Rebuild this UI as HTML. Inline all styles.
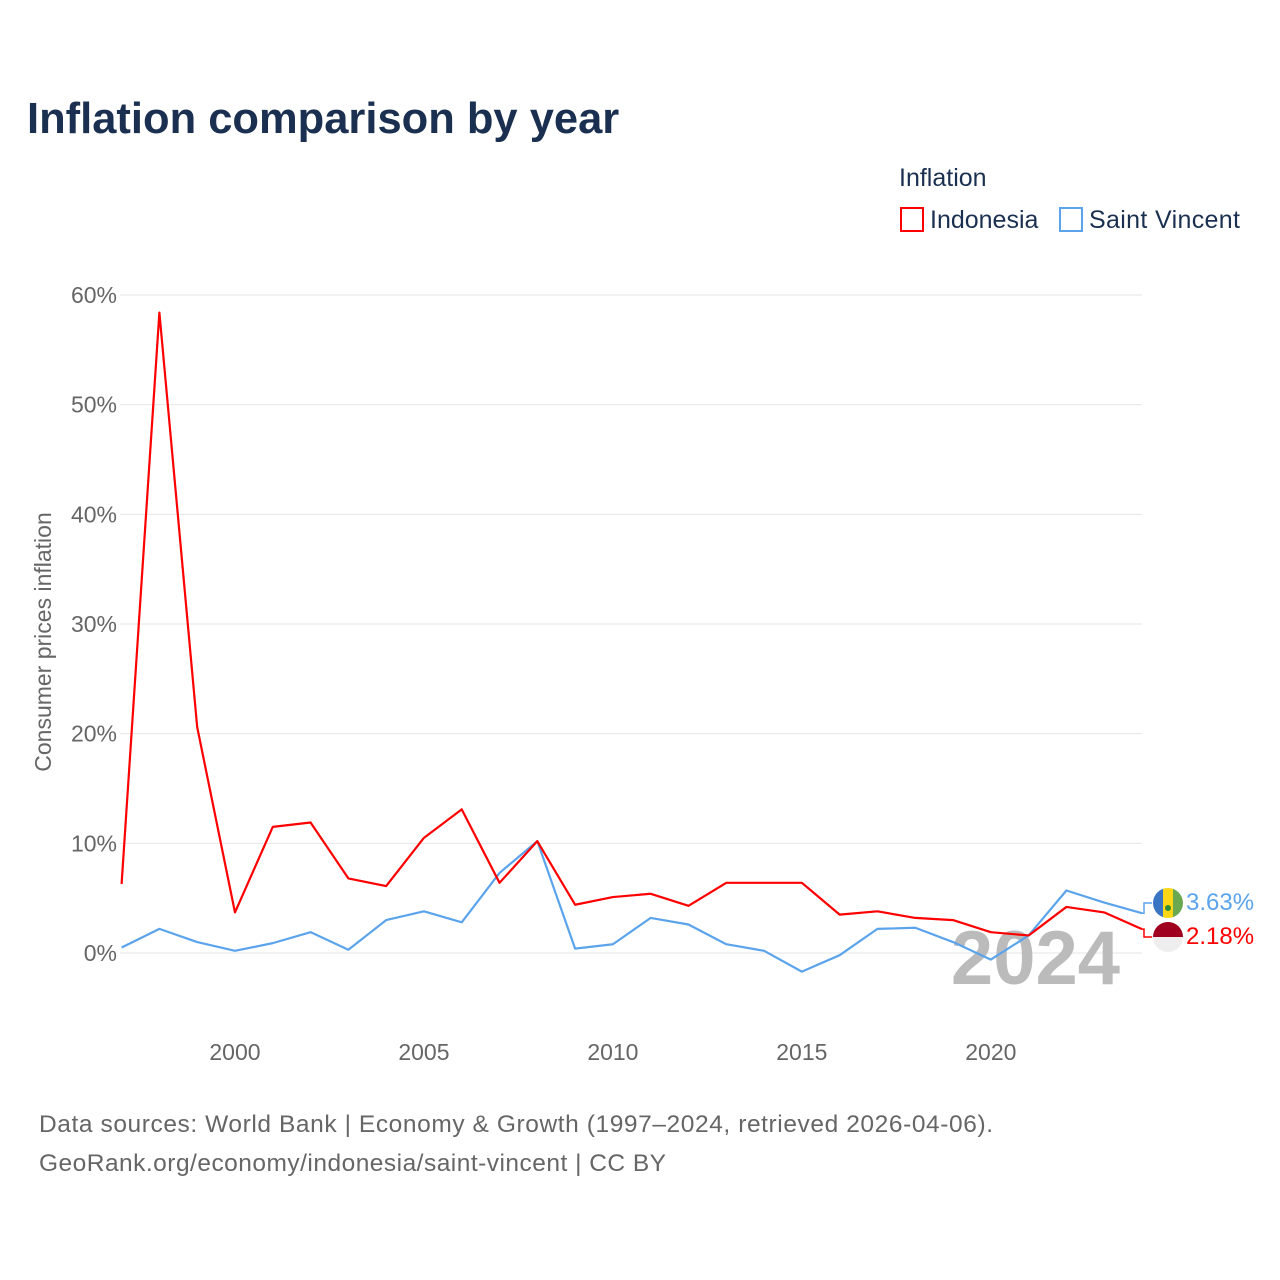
<!DOCTYPE html>
<html><head><meta charset="utf-8">
<style>
body{margin:0;background:#fff;font-family:"Liberation Sans",sans-serif;}
#wrap{position:relative;width:1280px;height:1280px;overflow:hidden;}
</style></head>
<body>
<div id="wrap">
<svg id="chart" width="1280" height="1280" xmlns="http://www.w3.org/2000/svg">
<text x="27" y="133" font-size="43.5" font-weight="bold" fill="#1b3050">Inflation comparison by year</text>
<text x="899" y="186" font-size="25" fill="#1b3050">Inflation</text>
<g><rect x="901" y="208" width="22" height="23" fill="#fff" stroke="#ff0000" stroke-width="2"/><text x="930" y="228" font-size="25" fill="#1b3050">Indonesia</text></g>
<g><rect x="1060" y="208" width="22" height="23" fill="#fff" stroke="#5ba4ec" stroke-width="2"/><text x="1089" y="228" font-size="25" fill="#1b3050" textLength="151">Saint Vincent</text></g>
<text transform="translate(51,642) rotate(-90)" text-anchor="middle" font-size="23" fill="#666">Consumer prices inflation</text>
<g id="grid"></g><g id="xticks"></g>
<text x="1120" y="984" text-anchor="end" font-size="76" font-weight="bold" fill="#bbb">2024</text>
<g id="lines"></g>
<g id="ends"></g>
<text x="39" y="1132" font-size="24.5" fill="#666" textLength="954">Data sources: World Bank | Economy &amp; Growth (1997–2024, retrieved 2026-04-06).</text>
<text x="39" y="1171" font-size="24.5" fill="#666" textLength="627">GeoRank.org/economy/indonesia/saint-vincent | CC BY</text>
</svg>
</div>
<script>
const years=[1997,1998,1999,2000,2001,2002,2003,2004,2005,2006,2007,2008,2009,2010,2011,2012,2013,2014,2015,2016,2017,2018,2019,2020,2021,2022,2023,2024];
const indonesia=[6.3,58.4,20.6,3.7,11.5,11.9,6.8,6.1,10.5,13.1,6.4,10.2,4.4,5.1,5.4,4.3,6.4,6.4,6.4,3.5,3.8,3.2,3.0,1.9,1.6,4.2,3.7,2.18];
const saintVincent=[0.5,2.2,1.0,0.2,0.9,1.9,0.3,3.0,3.8,2.8,7.3,10.2,0.4,0.8,3.2,2.6,0.8,0.2,-1.7,-0.2,2.2,2.3,1.0,-0.6,1.6,5.7,4.6,3.63];
const yTicks=[0,10,20,30,40,50,60];
const xTicks=[2000,2005,2010,2015,2020];
const NS="http://www.w3.org/2000/svg";
const xs=y=>121.6+(y-1997)*(1142-121.6)/27;
const ys=v=>953-v*(953-295)/60;
function mk(t,a,p){const e=document.createElementNS(NS,t);for(const k in a)e.setAttribute(k,a[k]);p.appendChild(e);return e;}
const grid=document.getElementById('grid');
yTicks.forEach(v=>{
 const l=mk('line',{x1:120,x2:1142,y1:ys(v),y2:ys(v),stroke:'#e6e6e6','stroke-width':1},grid);
 
 
 const t=mk('text',{x:117,y:ys(v)+8,'text-anchor':'end','font-size':23,fill:'#666'},grid);
 t.textContent=v+'%';
 
 
});
const xt=document.getElementById('xticks');
xTicks.forEach(v=>{
 const t=mk('text',{x:xs(v),y:1060,'text-anchor':'middle','font-size':23,fill:'#666'},xt);
 t.textContent=v;
 
 
});
const lines=document.getElementById('lines');
function series(vals,col,name){
 const p=mk('polyline',{points:vals.map((v,i)=>xs(years[i])+','+ys(v)).join(' '),fill:'none',stroke:col,'stroke-width':2.2,'stroke-linejoin':'round'},lines);
 
 
}
series(saintVincent,'#5ba4ec','line-saint-vincent');
series(indonesia,'#ff0000','line-indonesia');
const ends=document.getElementById('ends');
const last=years.length-1;
const svY=903,inY=937,ex=xs(years[last]);
mk('polyline',{points:`${ex},${ys(saintVincent[last])} ${ex+2},${ys(saintVincent[last])} ${ex+2},${svY} ${ex+10},${svY}`,fill:'none',stroke:'#5ba4ec','stroke-width':1.5},ends);
mk('polyline',{points:`${ex},${ys(indonesia[last])} ${ex+2},${ys(indonesia[last])} ${ex+2},${inY} ${ex+10},${inY}`,fill:'none',stroke:'#ff0000','stroke-width':1.5},ends);
const cp=mk('clipPath',{id:'c1'},ends);mk('circle',{cx:1168,cy:903,r:15},cp);
mk('rect',{x:1153,y:888,width:10,height:30,fill:'#3a75c4','clip-path':'url(#c1)'},ends);
mk('rect',{x:1163,y:888,width:10,height:30,fill:'#f9d616','clip-path':'url(#c1)'},ends);
mk('rect',{x:1173,y:888,width:10,height:30,fill:'#6aa84f','clip-path':'url(#c1)'},ends);
mk('circle',{cx:1168,cy:908,r:3,fill:'#2e8b2e'},ends);
mk('path',{d:'M1153,937 A15,15 0 0 1 1183,937 Z',fill:'#a00020'},ends);
mk('path',{d:'M1153,937 A15,15 0 0 0 1183,937 Z',fill:'#eee'},ends);
const t1=mk('text',{x:1186,y:910,'font-size':24,fill:'#5ba4ec'},ends);t1.textContent=saintVincent[last].toFixed(2)+'%';


const t2=mk('text',{x:1186,y:944,'font-size':24,fill:'#ff0000'},ends);t2.textContent=indonesia[last].toFixed(2)+'%';


</script>
</body></html>
